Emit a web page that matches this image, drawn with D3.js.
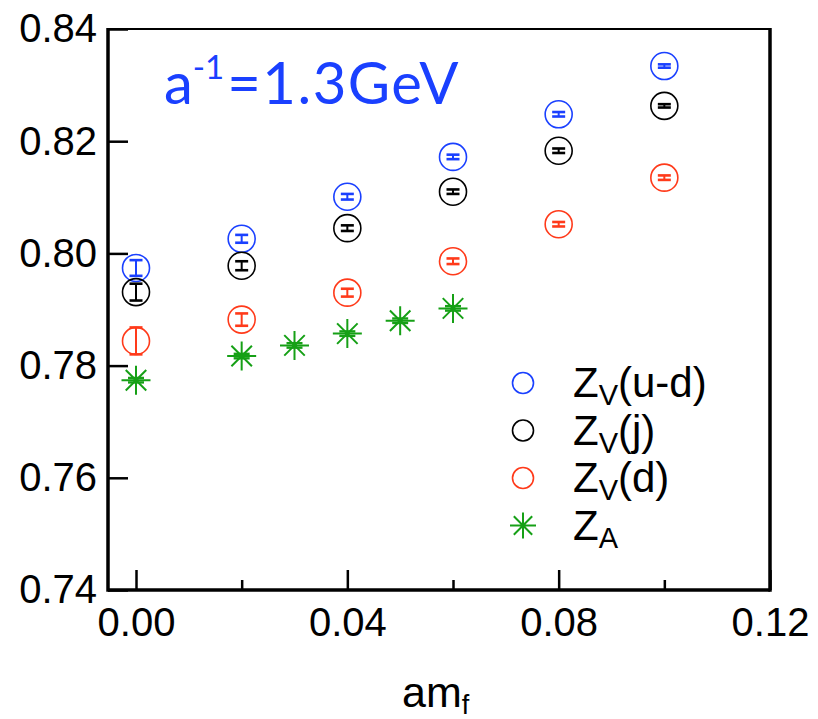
<!DOCTYPE html>
<html>
<head>
<meta charset="utf-8">
<script src="https://cdn.jsdelivr.net/npm/d3@7"></script>
<style>
  body { margin: 0; background: #fff; }
  svg { display: block; }
</style>
</head>
<body>
<div id="chart"></div>
<script>
// quark masses (am_f) for the Z_V data
var mf = [0.0, 0.02, 0.04, 0.06, 0.08, 0.10];
var zvUD = [0.7974, 0.8026, 0.8101, 0.8172, 0.8248, 0.8334];
var zvUDErr = [0.0014, 0.0007, 0.0005, 0.0004, 0.0004, 0.0003];
var zvJ = [0.7931, 0.7978, 0.8045, 0.8110, 0.8183, 0.8263];
var zvJErr = [0.0015, 0.0008, 0.0005, 0.0004, 0.0004, 0.0003];
var zvD = [0.7844, 0.7882, 0.7930, 0.7986, 0.8052, 0.8135];
var zvDErr = [0.0024, 0.0011, 0.0007, 0.0005, 0.0004, 0.0004];
// Z_A has its own masses
var mfA = [0.0, 0.02, 0.03, 0.04, 0.05, 0.06];
var zA = [0.7774, 0.7817, 0.7836, 0.7857, 0.7880, 0.7902];
var zAErr = [0.0004, 0.0004, 0.0004, 0.0004, 0.0004, 0.0004];

var xMajor = [0.00, 0.04, 0.08, 0.12];
var xMinor = [0.02, 0.06, 0.10];
var yTicks = [0.74, 0.76, 0.78, 0.80, 0.82, 0.84];

var width = 818, height = 719;
var margin = {top: 29, right: 48, bottom: 129, left: 108};
var blue = "#1a40ff", red = "#ff3a1a", green = "#16a016", black = "#000";

var svg = d3.select("#chart").append("svg")
    .attr("width", width)
    .attr("height", height);

var xScale = d3.scaleLinear()
    .domain([-0.0053, 0.12])
    .range([margin.left, width - margin.right]);
var yScale = d3.scaleLinear()
    .domain([0.74, 0.84])
    .range([height - margin.bottom, margin.top]);

var font = "'Liberation Sans', Arial, Helvetica, sans-serif";

// axes, ticks pointing inward
svg.append("g")
    .attr("transform", "translate(0," + (height - margin.bottom) + ")")
    .call(d3.axisBottom(xScale).tickValues(xMajor).tickSize(-20).tickPadding(18)
        .tickFormat(d3.format(".2f")));
svg.append("g")
    .attr("transform", "translate(0," + (height - margin.bottom) + ")")
    .call(d3.axisBottom(xScale).tickValues(xMinor).tickSize(-10).tickFormat(""));
svg.append("g")
    .attr("transform", "translate(" + margin.left + ",0)")
    .call(d3.axisLeft(yScale).tickValues(yTicks).tickSize(-20).tickPadding(11)
        .tickFormat(d3.format(".2f")));

svg.selectAll(".domain").remove();
svg.selectAll(".tick line").attr("stroke", black).attr("stroke-width", 2.5);
svg.selectAll(".tick text")
    .attr("fill", black)
    .style("font-family", font)
    .style("font-size", "40px");

// frame
var x0 = xScale.range()[0], x1 = xScale.range()[1];
var y0 = yScale.range()[0], y1 = yScale.range()[1];
svg.append("line").attr("x1", x0).attr("x2", x1).attr("y1", y1).attr("y2", y1)
    .attr("stroke", black).attr("stroke-width", 2);
svg.append("line").attr("x1", x0).attr("x2", x1).attr("y1", y0).attr("y2", y0)
    .attr("stroke", black).attr("stroke-width", 3.5);
svg.append("line").attr("x1", x0).attr("x2", x0).attr("y1", y1 - 1).attr("y2", y0 + 1.7)
    .attr("stroke", black).attr("stroke-width", 3.5);
svg.append("line").attr("x1", x1).attr("x2", x1).attr("y1", y1 - 1).attr("y2", y0 + 1.7)
    .attr("stroke", black).attr("stroke-width", 3.5);

// circle series with error bars
function drawCircles(xs, ys, errs, color) {
    var g = svg.append("g").selectAll("g")
        .data(xs.map(function(d, i) { return {x: d, y: ys[i], e: errs[i]}; }))
        .enter().append("g");
    g.append("circle")
        .attr("cx", function(d) { return xScale(d.x); })
        .attr("cy", function(d) { return yScale(d.y); })
        .attr("r", 13.5)
        .attr("fill", "none")
        .attr("stroke", color)
        .attr("stroke-width", 1.6);
    g.append("line")
        .attr("x1", function(d) { return xScale(d.x); })
        .attr("x2", function(d) { return xScale(d.x); })
        .attr("y1", function(d) { return yScale(d.y - d.e); })
        .attr("y2", function(d) { return yScale(d.y + d.e); })
        .attr("stroke", color).attr("stroke-width", 2);
    [-1, 1].forEach(function(s) {
        g.append("line")
            .attr("x1", function(d) { return xScale(d.x) - 6.5; })
            .attr("x2", function(d) { return xScale(d.x) + 6.5; })
            .attr("y1", function(d) { return yScale(d.y + s * d.e); })
            .attr("y2", function(d) { return yScale(d.y + s * d.e); })
            .attr("stroke", color).attr("stroke-width", 2.6);
    });
}

function starPath(cx, cy, r) {
    var d = r * Math.SQRT1_2;
    return "M" + (cx - r) + "," + cy + "H" + (cx + r) +
        "M" + cx + "," + (cy - r) + "V" + (cy + r) +
        "M" + (cx - d) + "," + (cy - d) + "L" + (cx + d) + "," + (cy + d) +
        "M" + (cx - d) + "," + (cy + d) + "L" + (cx + d) + "," + (cy - d);
}

drawCircles(mf, zvUD, zvUDErr, blue);
drawCircles(mf, zvJ, zvJErr, black);
drawCircles(mf, zvD, zvDErr, red);

// Z_A stars
var gA = svg.append("g").selectAll("g")
    .data(mfA.map(function(d, i) { return {x: d, y: zA[i], e: zAErr[i]}; }))
    .enter().append("g");
gA.append("path")
    .attr("d", function(d) { return starPath(xScale(d.x), yScale(d.y), 14.5); })
    .attr("fill", "none")
    .attr("stroke", green)
    .attr("stroke-width", 2);
[-1, 1].forEach(function(s) {
    gA.append("line")
        .attr("x1", function(d) { return xScale(d.x) - 8; })
        .attr("x2", function(d) { return xScale(d.x) + 8; })
        .attr("y1", function(d) { return yScale(d.y + s * d.e); })
        .attr("y2", function(d) { return yScale(d.y + s * d.e); })
        .attr("stroke", green).attr("stroke-width", 2.4);
});

// legend
var legendItems = [
    {sub: "V", rest: "(u-d)", color: blue, star: false},
    {sub: "V", rest: "(j)", color: black, star: false},
    {sub: "V", rest: "(d)", color: red, star: false},
    {sub: "A", rest: "", color: green, star: true}
];
var legend = svg.append("g").selectAll("g")
    .data(legendItems)
    .enter().append("g")
    .attr("transform", function(d, i) { return "translate(523," + (383 + i * 47.5) + ")"; });
legend.filter(function(d) { return !d.star; }).append("circle")
    .attr("r", 10.5)
    .attr("fill", "none")
    .attr("stroke", function(d) { return d.color; })
    .attr("stroke-width", 1.6);
legend.filter(function(d) { return d.star; }).append("path")
    .attr("d", starPath(0, 0, 13))
    .attr("fill", "none")
    .attr("stroke", green)
    .attr("stroke-width", 2);
var lt = legend.append("text")
    .attr("x", 50)
    .attr("y", 14)
    .attr("fill", black)
    .style("font-family", font)
    .style("font-size", "42px");
lt.append("tspan").text("Z");
lt.append("tspan").attr("dy", 8).style("font-size", "29px").text(function(d) { return d.sub; });
lt.append("tspan").attr("dy", -8).text(function(d) { return d.rest; });

// lattice spacing annotation
var ann = svg.append("text")
    .attr("x", 164)
    .attr("y", 104)
    .attr("fill", blue)
    .style("font-family", "Lato, 'Open Sans', sans-serif")
    .style("font-size", "58px");
ann.append("tspan").text("a");
ann.append("tspan").attr("dy", -25).style("font-size", "33px").text("-1");
ann.append("tspan").attr("dy", 25).attr("dx", 3).style("letter-spacing", "1.5px").text("=1.3GeV");

// x axis title
var xt = svg.append("text")
    .attr("x", 402)
    .attr("y", 707)
    .attr("fill", black)
    .style("font-family", font)
    .style("font-size", "43px");
xt.append("tspan").text("am");
xt.append("tspan").attr("dy", 7).style("font-size", "27px").text("f");
</script>
</body>
</html>
